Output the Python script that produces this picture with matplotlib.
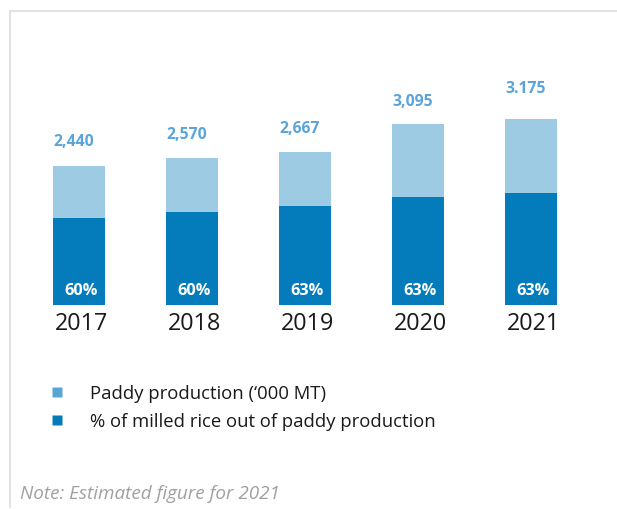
import matplotlib.pyplot as plt
from matplotlib.lines import Line2D

plt.rcParams["font.family"] = ["Open Sans", "DejaVu Sans"]

W, H = 617, 510

# data
years = ["2017", "2018", "2019", "2020", "2021"]
paddy = [2440, 2570, 2667, 3095, 3175]
paddy_labels = ["2,440", "2,570", "2,667", "3,095", "3.175"]
milled = [1620, 1715, 1805, 1950, 2010]
milled_pct = ["60%", "60%", "63%", "63%", "63%"]

LIGHT = "#9ccbe3"
DARK = "#047bbb"
LABEL_BLUE = "#5ba4d9"

fig = plt.figure(figsize=(W / 100, H / 100), dpi=100)


def px(x, y):
    # pixel (from top-left) -> figure fraction
    return x / W, 1 - y / H


# axes laid out so the bars land where the reference has them
left, bottom = 22.5, 306
ax_w, ax_h = 565, 200
ax = fig.add_axes([left / W, 1 - bottom / H, ax_w / W, ax_h / H])
ax.set_xlim(-0.5, 4.5)
ax.set_ylim(250, 3400)
ax.axis("off")

xs = range(len(years))
bw = 0.46
ax.bar(xs, paddy, width=bw, color=LIGHT, zorder=1)
ax.bar(xs, milled, width=bw, color=DARK, zorder=2)

label_offsets = [25, 24, 24, 23, 31]
for i, (v, lab) in enumerate(zip(paddy, paddy_labels)):
    ax.annotate(lab, (i - bw / 2, v), xytext=(0, label_offsets[i] * 0.72),
                textcoords="offset points", ha="left", va="center",
                color=LABEL_BLUE, fontsize=11.3, fontweight="bold")
    ax.annotate(milled_pct[i], (i, 250), xytext=(1.5, 15 * 0.72),
                textcoords="offset points", ha="center", va="center",
                color="white", fontsize=11.7, fontweight="bold")
    ax.annotate(years[i], (i, 250), xytext=(2, -18.5 * 0.72),
                textcoords="offset points", ha="center", va="center",
                color="#1a1a1a", fontsize=16.8)

# legend
handles = [
    Line2D([], [], marker="s", linestyle="none", markersize=7.2,
           markerfacecolor="#5aa5d8", markeredgecolor="none"),
    Line2D([], [], marker="s", linestyle="none", markersize=7.2,
           markerfacecolor=DARK, markeredgecolor="none"),
]
fig.legend(handles, ["Paddy production (\u2018000 MT)",
                     "% of milled rice out of paddy production"],
           loc="upper left", bbox_to_anchor=px(48, 385), frameon=False,
           fontsize=13.3, handlelength=0.95, handletextpad=1.3,
           labelspacing=0.56, borderpad=0, borderaxespad=0,
           labelcolor="#1a1a1a")

# note
fig.text(*px(20, 494), "Note: Estimated figure for 2021", ha="left",
         va="center", fontsize=13.6, style="italic", color="#a0a0a0")

# light frame (top and left edges only)
fig.add_artist(Line2D([9.5 / W, 1], [1 - 12 / H] * 2, color="#dddddd", lw=1.2))
fig.add_artist(Line2D([9.5 / W] * 2, [1 - 12 / H, 1 - 508 / H], color="#dddddd", lw=1.2))

fig.savefig("out.png", dpi=100)
